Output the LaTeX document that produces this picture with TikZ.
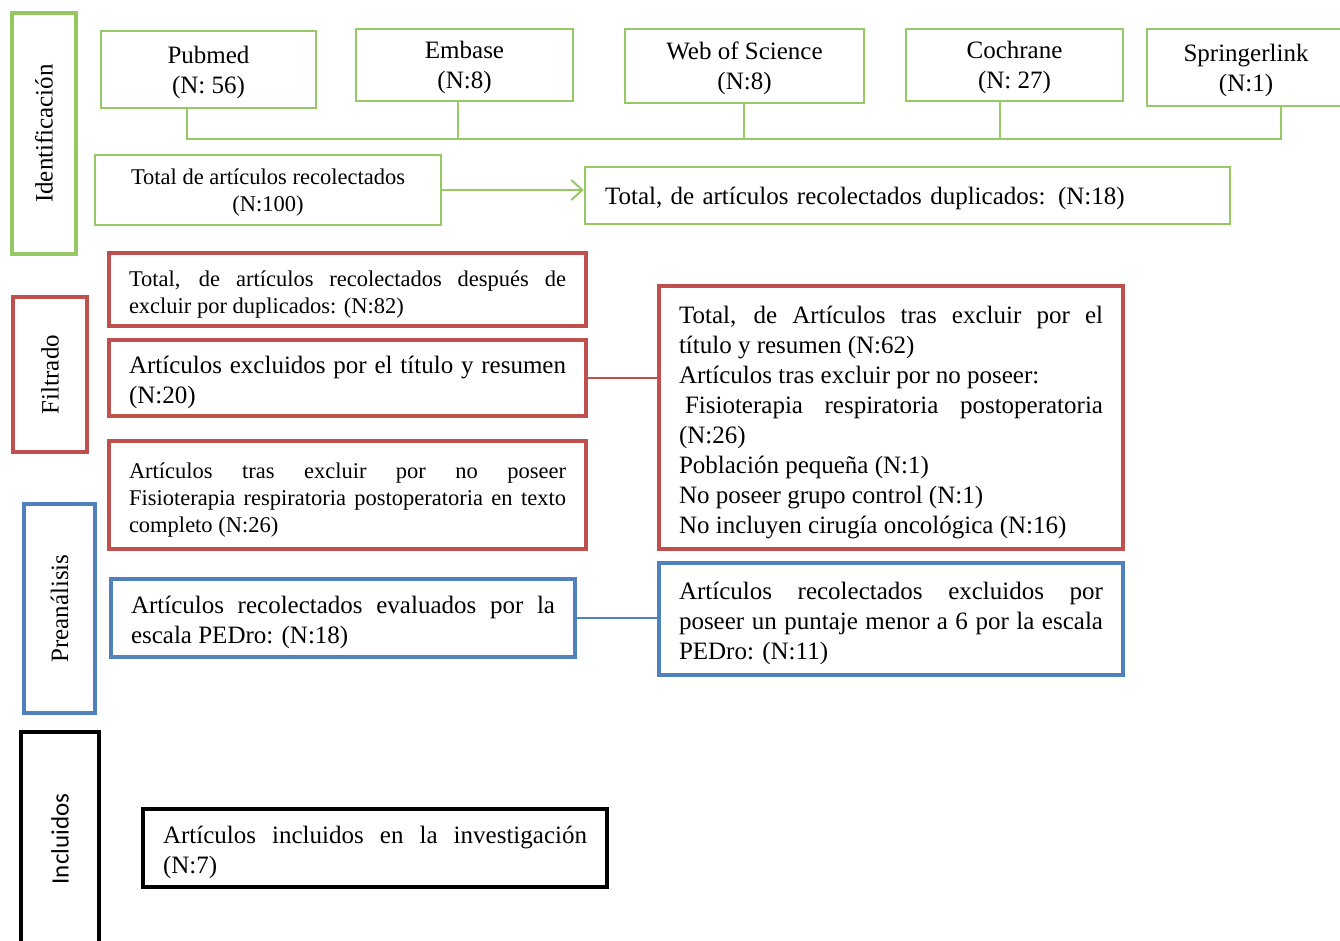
\documentclass[tikz,border=0pt]{standalone}
\usepackage{fontspec}
\setmainfont{Liberation Serif}
\newfontfamily\calibrifont{Carlito}
\usetikzlibrary{arrows.meta}
\definecolor{vgreen}{RGB}{150,200,100}
\definecolor{vred}{RGB}{192,80,77}
\definecolor{vblue}{RGB}{79,129,189}

\begin{document}
\begin{tikzpicture}[x=1pt, y=-1pt,
    every node/.style={font=\fontsize{25}{30}\selectfont, inner sep=0pt},
    src/.style={draw=vgreen, line width=2.5pt, align=center, text depth=0pt},
    stage/.style={line width=3.5pt, rotate=90},
    txt/.style={line width=3.5pt, inner xsep=20pt, align=justify, text height=27pt},
    smalltxt/.style={font=\fontsize{22.5}{27}\selectfont},
    gline/.style={draw=vgreen, line width=2pt}]
  \useasboundingbox (0,0) rectangle (1340,940);

  % stages
  \node[stage, draw=vgreen, minimum width=241, minimum height=64] (ident) at (44,133.5) {Identificación};
  \node[stage, draw=vred, minimum width=155, minimum height=74] (filtr) at (50,374.5) {Filtrado};
  \node[stage, draw=vblue, minimum width=209, minimum height=71] (preanal) at (59.5,608.5) {Preanálisis};
  \node[stage, draw=black, minimum width=214, minimum height=78,
        font=\calibrifont\fontsize{25}{30}\selectfont] (incl) at (60,839) {Incluidos};

  % sources
  \node[src, minimum width=215, minimum height=77] (pubmed) at (208.5,69.5) {Pubmed\\(N: 56)};
  \node[src, minimum width=217, minimum height=72] (embase) at (464.5,65) {Embase\\(N:8)};
  \node[src, minimum width=239, minimum height=74] (wos) at (744.5,66) {Web of Science\\(N:8)};
  \node[src, minimum width=217, minimum height=72] (cochrane) at (1014.5,65) {Cochrane\\(N: 27)};
  \node[src, minimum width=198, minimum height=77] (springer) at (1246,67.5) {Springerlink\\(N:1)};

  \coordinate (busl) at (187,139);
  \coordinate (busr) at (1281,139);
  \draw[gline] (pubmed.south -| busl) -- (busl) -- (busr) -- (springer.south -| busr);
  \foreach \n/\x in {embase/458, wos/744, cochrane/1000} {
    \coordinate (tap) at (\x,139);
    \draw[gline] (\n.south -| tap) -- (tap);
  }

  \node[src, smalltxt, minimum width=346, minimum height=70] (totrec) at (268,190)
    {Total de artículos recolectados\\(N:100)};
  \node[src, inner xsep=20pt, text width=605, align=left, minimum height=57] (dup) at (907.5,195.5)
    {Total, de artículos recolectados duplicados: (N:18)};
  \draw[gline, -{Straight Barb[length=11pt, width=20pt]}] (totrec.east) -- (totrec.east -| dup.west);

  % filtrado
  \node[txt, smalltxt, text height=26pt, draw=vred, text width=437, minimum height=73] (nodup) at (347.5,289.5)
    {Total, de artículos recolectados después de\linebreak excluir por duplicados: (N:82)};
  \node[txt, draw=vred, text width=437, minimum height=76] (excl) at (347.5,378)
    {Artículos excluidos por el título y resumen\linebreak (N:20)};
  \node[txt, smalltxt, text height=26pt, draw=vred, text width=437, minimum height=108] (notext) at (347.5,495)
    {Artículos tras excluir por no poseer\linebreak Fisioterapia respiratoria postoperatoria en texto\linebreak completo (N:26)};
  \node[txt, draw=vred, text width=424, minimum height=263] (res) at (891,417.5)
    {Total, de Artículos tras excluir por el\linebreak título y resumen (N:62)\\
     Artículos tras excluir por no poseer:\\
     \hspace*{6pt}Fisioterapia respiratoria postoperatoria\linebreak (N:26)\\
     Población pequeña (N:1)\\
     No poseer grupo control (N:1)\\
     No incluyen cirugía oncológica (N:16)};
  \draw[draw=vred, line width=1.5pt] (excl.east) -- (excl.east -| res.west);

  % preanalisis
  \node[txt, draw=vblue, text width=424, minimum height=78] (eval) at (343,618)
    {Artículos recolectados evaluados por la\linebreak escala PEDro: (N:18)};
  \node[txt, draw=vblue, text width=424, minimum height=112] (low) at (891,619)
    {Artículos recolectados excluidos por\linebreak poseer un puntaje menor a 6 por la escala\linebreak PEDro: (N:11)};
  \draw[draw=vblue, line width=1.5pt] (eval.east) -- (eval.east -| low.west);

  % incluidos
  \node[txt, draw=black, line width=4pt, text width=424, minimum height=78] (final) at (375,848)
    {Artículos incluidos en la investigación\linebreak (N:7)};
\end{tikzpicture}
\end{document}
